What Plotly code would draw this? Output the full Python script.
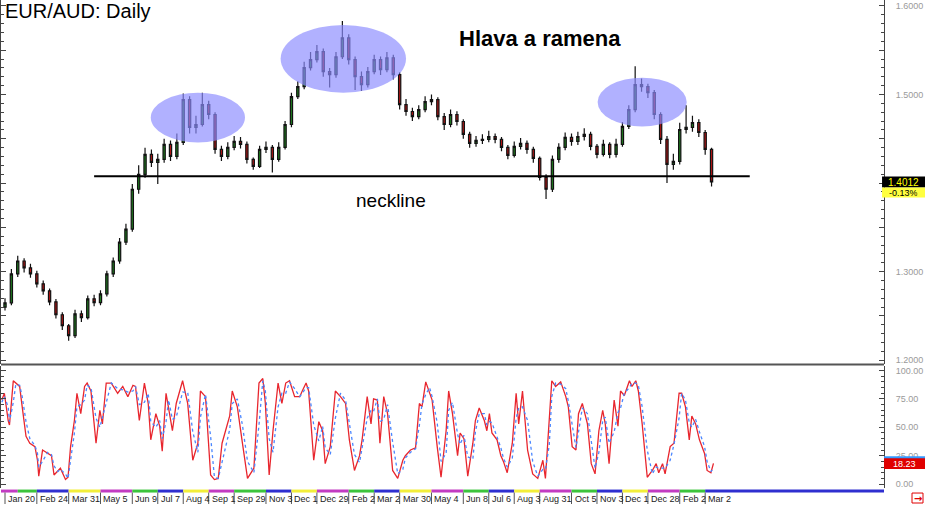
import numpy as np
import plotly.graph_objects as go

# ---------------- data ----------------
tick_labels = ["Jan 20", "Feb 24", "Mar 31", "May 5", "Jun 9", "Jul 7", "Aug 4", "Sep 1",
               "Sep 29", "Nov 3", "Dec 1", "Dec 29", "Feb 2", "Mar 2", "Mar 30", "May 4",
               "Jun 8", "Jul 6", "Aug 3", "Aug 31", "Oct 5", "Nov 3", "Dec 1", "Dec 28",
               "Feb 2", "Mar 2"]
tick_weeks = [0, 5, 10, 15, 20, 24, 28, 32, 36, 41, 45, 49, 54, 58, 62, 67, 72, 76, 80, 84,
              89, 93, 97, 101, 106, 110]
band_edges = [-0.63, 2.0, 5, 10, 15, 20, 24, 28, 32, 36, 41, 45, 49, 54, 58, 62, 67, 72, 76,
              80, 84, 89, 93, 97, 101, 106, 110, 138.1]
band_colors = ["#c23bc2", "#3cc43c", "#2f2fd0", "#f2ee3a"]

price_open = [1.2600, 1.2648, 1.2974, 1.3120, 1.3042, 1.2974, 1.2862, 1.2783, 1.2659, 1.2513,
              1.2389, 1.2277, 1.2524, 1.2480, 1.2693, 1.2650, 1.2749, 1.2974, 1.3120, 1.3334,
              1.3480, 1.3930, 1.4099, 1.4324, 1.4234, 1.4268, 1.4436, 1.4301, 1.4459, 1.4943,
              1.4628, 1.4661, 1.4886, 1.4774, 1.4380, 1.4301, 1.4403, 1.4470, 1.4436, 1.4268,
              1.4189, 1.4380, 1.4403, 1.4268, 1.4403, 1.4661, 1.4976, 1.5089, 1.5303, 1.5393,
              1.5483, 1.5258, 1.5224, 1.5426, 1.5640, 1.5393, 1.5201, 1.5111, 1.5258, 1.5393,
              1.5280, 1.5415, 1.5224, 1.4886, 1.4808, 1.4751, 1.4830, 1.4920, 1.4943, 1.4751,
              1.4661, 1.4774, 1.4695, 1.4549, 1.4448, 1.4481, 1.4493, 1.4526, 1.4493, 1.4403,
              1.4313, 1.4414, 1.4448, 1.4380, 1.4279, 1.4065, 1.3930, 1.4268, 1.4403, 1.4515,
              1.4470, 1.4526, 1.4549, 1.4414, 1.4324, 1.4436, 1.4324, 1.4436, 1.4639, 1.4830,
              1.5111, 1.5089, 1.5021, 1.4774, 1.4493, 1.4211, 1.4245, 1.4605, 1.4628, 1.4684,
              1.4571, 1.4380]
price_high = [1.2700, 1.3030, 1.3180, 1.3150, 1.3090, 1.3010, 1.2900, 1.2810, 1.2690, 1.2540,
              1.2410, 1.2570, 1.2560, 1.2730, 1.2740, 1.2790, 1.3010, 1.3160, 1.3380, 1.3540,
              1.3990, 1.4200, 1.4400, 1.4380, 1.4330, 1.4500, 1.4480, 1.4560, 1.5010, 1.4980,
              1.4760, 1.5020, 1.4930, 1.4800, 1.4420, 1.4460, 1.4530, 1.4520, 1.4470, 1.4290,
              1.4420, 1.4470, 1.4430, 1.4460, 1.4700, 1.5020, 1.5150, 1.5370, 1.5480, 1.5560,
              1.5520, 1.5300, 1.5480, 1.5830, 1.5680, 1.5430, 1.5260, 1.5310, 1.5450, 1.5430,
              1.5480, 1.5450, 1.5250, 1.4950, 1.4850, 1.4880, 1.4980, 1.5000, 1.4970, 1.4790,
              1.4830, 1.4810, 1.4720, 1.4580, 1.4530, 1.4550, 1.4590, 1.4560, 1.4520, 1.4430,
              1.4470, 1.4510, 1.4480, 1.4410, 1.4300, 1.4100, 1.4310, 1.4450, 1.4570, 1.4560,
              1.4580, 1.4620, 1.4580, 1.4440, 1.4490, 1.4460, 1.4500, 1.4690, 1.4880, 1.5320,
              1.5180, 1.5120, 1.5050, 1.4800, 1.4530, 1.4330, 1.4680, 1.4880, 1.4760, 1.4720,
              1.4600, 1.4400]
price_low = [1.2560, 1.2620, 1.2940, 1.2990, 1.2930, 1.2820, 1.2740, 1.2620, 1.2470, 1.2340,
             1.2220, 1.2250, 1.2430, 1.2460, 1.2610, 1.2620, 1.2720, 1.2940, 1.3090, 1.3300,
             1.3450, 1.3880, 1.4060, 1.4180, 1.3990, 1.4230, 1.4250, 1.4270, 1.4430, 1.4560,
             1.4560, 1.4640, 1.4720, 1.4330, 1.4250, 1.4270, 1.4370, 1.4390, 1.4220, 1.4150,
             1.4170, 1.4340, 1.4120, 1.4240, 1.4380, 1.4630, 1.4950, 1.5060, 1.5270, 1.5360,
             1.5200, 1.5080, 1.5190, 1.5400, 1.5340, 1.5050, 1.5040, 1.5080, 1.5230, 1.5220,
             1.5250, 1.5170, 1.4830, 1.4760, 1.4700, 1.4720, 1.4800, 1.4880, 1.4710, 1.4600,
             1.4630, 1.4650, 1.4500, 1.4400, 1.4410, 1.4440, 1.4460, 1.4450, 1.4360, 1.4270,
             1.4290, 1.4380, 1.4330, 1.4230, 1.4030, 1.3820, 1.3900, 1.4230, 1.4370, 1.4420,
             1.4430, 1.4480, 1.4370, 1.4280, 1.4300, 1.4280, 1.4290, 1.4410, 1.4610, 1.4800,
             1.5030, 1.4960, 1.4720, 1.4440, 1.4000, 1.4150, 1.4210, 1.4560, 1.4580, 1.4520,
             1.4320, 1.3960]
price_close = [1.2648, 1.2974, 1.3120, 1.3042, 1.2974, 1.2862, 1.2783, 1.2659, 1.2513, 1.2389,
               1.2277, 1.2524, 1.2480, 1.2693, 1.2650, 1.2749, 1.2974, 1.3120, 1.3334, 1.3480,
               1.3930, 1.4099, 1.4324, 1.4234, 1.4268, 1.4436, 1.4301, 1.4459, 1.4943, 1.4628,
               1.4661, 1.4886, 1.4774, 1.4380, 1.4301, 1.4403, 1.4470, 1.4436, 1.4268, 1.4189,
               1.4380, 1.4403, 1.4268, 1.4403, 1.4661, 1.4976, 1.5089, 1.5303, 1.5393, 1.5483,
               1.5258, 1.5224, 1.5426, 1.5640, 1.5393, 1.5201, 1.5111, 1.5258, 1.5393, 1.5280,
               1.5415, 1.5224, 1.4886, 1.4808, 1.4751, 1.4830, 1.4920, 1.4943, 1.4751, 1.4661,
               1.4774, 1.4695, 1.4549, 1.4448, 1.4481, 1.4493, 1.4526, 1.4493, 1.4403, 1.4313,
               1.4414, 1.4448, 1.4380, 1.4279, 1.4065, 1.3930, 1.4268, 1.4403, 1.4515, 1.4470,
               1.4526, 1.4549, 1.4414, 1.4324, 1.4436, 1.4324, 1.4436, 1.4639, 1.4830, 1.5111,
               1.5089, 1.5021, 1.4774, 1.4493, 1.4211, 1.4245, 1.4605, 1.4628, 1.4684, 1.4571,
               1.4380, 1.4012]

# stochastic oscillator, sampled on trading-day index
osc_day = [0, 2, 5, 6, 9, 11, 14, 16, 19, 22, 26, 28, 29, 32, 36, 39, 41, 44, 46, 50,
           52, 54, 57, 59, 62, 65, 67, 70, 74, 77, 79, 82, 86, 91, 95, 99, 103, 105, 108, 112,
           115, 117, 121, 124, 126, 129, 131, 134, 137, 142, 146, 150, 154, 156, 160, 164, 167, 170, 173, 179,
           181, 185, 189, 193, 198, 202, 205, 207, 210, 213, 217, 220, 223, 226, 230, 234, 236, 239, 241, 245,
           249, 252, 254, 258, 262, 266, 270, 273, 277, 281, 283, 287, 290, 292, 295, 297, 300, 303, 307, 311,
           315, 317, 321, 325, 328, 330, 333, 336, 338, 342, 345, 349, 351, 354, 358, 360, 363, 366, 370, 372,
           375, 379, 381, 383, 385, 389, 392, 394, 397, 401, 404, 406, 409, 413, 417, 421, 425, 427, 430, 432,
           435, 439, 443, 445, 448, 451, 453, 456, 460, 463, 466, 469, 472, 474, 477, 481, 484, 486, 489, 493,
           495, 498, 500, 503, 507, 511, 514, 516, 519, 521, 525, 528, 532, 534, 537, 540, 542, 545, 548, 552,
           554, 557, 559]
stoch_k = [74, 80, 56, 52, 91, 89, 86, 68, 42, 36, 33, 21, 7, 30, 27, 25, 8, 12, 14, 4,
           6, 33, 56, 80, 62, 86, 89, 82, 36, 65, 53, 89, 89, 80, 86, 77, 87, 86, 56, 89,
           71, 39, 62, 51, 29, 80, 68, 47, 71, 91, 71, 21, 36, 82, 77, 8, 4, 5, 36, 60,
           82, 68, 36, 5, 14, 89, 93, 71, 8, 47, 89, 71, 89, 91, 77, 77, 82, 89, 82, 21,
           55, 47, 18, 33, 82, 77, 71, 39, 12, 25, 39, 77, 53, 75, 74, 36, 77, 62, 12, 5,
           21, 25, 30, 32, 71, 68, 90, 80, 74, 33, 6, 47, 82, 62, 25, 45, 40, 7, 36, 56,
           67, 56, 47, 62, 45, 39, 25, 20, 10, 36, 80, 53, 82, 30, 9, 5, 21, 5, 62, 91,
           86, 90, 77, 68, 33, 30, 62, 71, 53, 18, 9, 47, 65, 53, 18, 74, 51, 82, 78, 91,
           86, 91, 82, 53, 6, 12, 18, 10, 18, 9, 33, 36, 80, 80, 68, 39, 60, 53, 39, 27,
           12, 10, 18.23]
stoch_d = [72, 77, 68, 55, 72, 88, 87, 77, 55, 40, 34, 27, 15, 20, 28, 26, 16, 11, 13, 9,
           5, 20, 45, 68, 70, 74, 87, 85, 58, 50, 59, 71, 89, 84, 83, 81, 82, 86, 70, 72,
           80, 55, 50, 56, 40, 55, 74, 57, 59, 81, 81, 46, 28, 59, 79, 42, 6, 5, 20, 48,
           71, 75, 52, 20, 10, 52, 91, 82, 40, 28, 68, 80, 80, 90, 84, 77, 80, 85, 85, 52,
           38, 51, 32, 26, 58, 80, 74, 55, 26, 19, 32, 58, 65, 64, 75, 55, 57, 70, 37, 9,
           13, 23, 28, 31, 52, 70, 79, 85, 77, 54, 20, 27, 65, 72, 44, 35, 43, 24, 22, 46,
           62, 62, 52, 55, 54, 42, 32, 23, 15, 23, 58, 67, 68, 56, 20, 7, 13, 13, 34, 77,
           89, 88, 84, 73, 51, 32, 46, 67, 62, 36, 14, 28, 56, 59, 36, 46, 63, 67, 80, 85,
           89, 89, 87, 68, 30, 9, 15, 14, 14, 14, 21, 35, 58, 80, 74, 54, 50, 57, 46, 33,
           20, 11, 14]

neckline_level = 1.4077
neckline_weeks = [14.0, 117.0]
shoulder_boxes = [  # (x0, x1, y0, y1) in weeks / price
    (22.9, 37.7, 1.4459, 1.5021),
    (43.3, 63.0, 1.5021, 1.5786),
    (93.1, 107.1, 1.4639, 1.5190),
]
last_price = 1.4012
last_change = "-0.13%"
last_k = 18.23

# ---------------- figure ----------------
FONT = "Liberation Sans, Arial, sans-serif"
W, H = 925, 506
XR = 884 / W
weeks = np.arange(len(price_close))
osc_x = np.array(osc_day) / 5.0 - 0.5

fig = go.Figure()
fig.add_trace(go.Candlestick(
    x=weeks, open=price_open, high=price_high, low=price_low, close=price_close,
    xaxis="x", yaxis="y", whiskerwidth=0, showlegend=False, hoverinfo="skip",
    increasing=dict(line=dict(color="#111111", width=1.2), fillcolor="#1f7a1f"),
    decreasing=dict(line=dict(color="#111111", width=1.2), fillcolor="#b01515"),
))
fig.add_trace(go.Scatter(x=osc_x, y=stoch_k, xaxis="x2", yaxis="y2", mode="lines",
                         line=dict(color="#e8262e", width=1.3), showlegend=False, hoverinfo="skip"))
fig.add_trace(go.Scatter(x=osc_x, y=stoch_d, xaxis="x2", yaxis="y2", mode="lines",
                         line=dict(color="#4a86ff", width=1.3, dash="3px,3px"),
                         showlegend=False, hoverinfo="skip"))

def py(px):
    return 1 - px / H

axis_common = dict(showgrid=False, zeroline=False, fixedrange=True)
fig.update_layout(
    width=W, height=H, margin=dict(l=0, r=0, t=0, b=0),
    paper_bgcolor="white", plot_bgcolor="white", boxgap=0.5,
    font=dict(family=FONT),
    xaxis=dict(domain=[0, XR], range=[-0.63, 138.1], showticklabels=False, ticks="",
               rangeslider=dict(visible=False), anchor="y", **axis_common),
    xaxis2=dict(domain=[0, XR], range=[-0.63, 138.1], showticklabels=False, ticks="",
                anchor="y2", **axis_common),
    yaxis=dict(domain=[py(365), 1], range=[1.1962, 1.6067], side="right", anchor="x",
               showline=True, linecolor="#444", linewidth=1, mirror="ticks",
               ticks="inside", ticklen=5, tickcolor="#444",
               tickvals=[1.20, 1.25, 1.30, 1.35, 1.40, 1.45, 1.50, 1.55, 1.60],
               ticktext=["1.2000", "", "1.3000", "", "", "", "1.5000", "", "1.6000"],
               minor=dict(dtick=0.01, ticks="inside", ticklen=3, tickcolor="#444"),
               tickfont=dict(size=9, color="#9a9a9a", family=FONT), ticklabelstandoff=9,
               **axis_common),
    yaxis2=dict(domain=[py(490), py(367)], range=[-3.5, 104.4], side="right", anchor="x2",
                showline=True, linecolor="#444", linewidth=1, mirror="ticks",
                ticks="inside", ticklen=5, tickcolor="#444",
                tickvals=[0, 25, 50, 75, 100], tickformat=".2f",
                minor=dict(dtick=5, ticks="inside", ticklen=3, tickcolor="#444"),
                tickfont=dict(size=9, color="#9a9a9a", family=FONT), ticklabelstandoff=9,
                **axis_common),
)

shapes = []
# ellipses
for (x0, x1, y0, y1) in shoulder_boxes:
    shapes.append(dict(type="circle", xref="x", yref="y", x0=x0, x1=x1, y0=y0, y1=y1,
                       fillcolor="rgba(140,140,255,0.68)", line=dict(width=0), layer="above"))
# neckline
shapes.append(dict(type="line", xref="x", yref="y", x0=neckline_weeks[0], x1=neckline_weeks[1],
                   y0=neckline_level, y1=neckline_level, line=dict(color="black", width=2),
                   layer="above"))
# panel separator
shapes.append(dict(type="line", xref="paper", yref="paper", x0=0, x1=XR, y0=py(366), y1=py(366),
                   line=dict(color="#555", width=2)))
# colored date band
for i in range(len(band_edges) - 1):
    shapes.append(dict(type="rect", xref="x2", yref="paper", x0=band_edges[i], x1=band_edges[i + 1],
                       y0=py(494.5), y1=py(491.5), fillcolor=band_colors[i % 4], line=dict(width=0)))
# label separators
for w in tick_weeks:
    shapes.append(dict(type="line", xref="x2", yref="paper", x0=w, x1=w, y0=py(506), y1=py(494.5),
                       line=dict(color="#555", width=1)))
# price tag
shapes.append(dict(type="rect", xref="paper", yref="y", x0=882 / W, x1=1, y0=last_price - 0.0062,
                   y1=last_price + 0.0062, fillcolor="black", line=dict(width=0)))
shapes.append(dict(type="rect", xref="paper", yref="y", x0=882 / W, x1=1, y0=last_price - 0.0174,
                   y1=last_price - 0.0062, fillcolor="#ffff40", line=dict(width=0)))
# oscillator tags
shapes.append(dict(type="rect", xref="paper", yref="y2", x0=XR, x1=1, y0=20, y1=24.6,
                   fillcolor="#3399ff", line=dict(width=0)))
shapes.append(dict(type="rect", xref="paper", yref="y2", x0=XR, x1=1, y0=13.2, y1=22.8,
                   fillcolor="#e00000", line=dict(width=0)))
# arrow icon box
shapes.append(dict(type="rect", xref="paper", yref="paper", x0=912 / W, x1=923 / W,
                   y0=py(505), y1=py(495), fillcolor="white", line=dict(color="#e00000", width=1)))
fig.update_layout(shapes=shapes)

ann = []
ann.append(dict(text="EUR/AUD: Daily", xref="paper", yref="paper", x=2 / W, y=py(11.5),
                xanchor="left", yanchor="middle", showarrow=False,
                font=dict(size=20, color="black", family=FONT)))
ann.append(dict(text="<b>Hlava a ramena</b>", xref="x", yref="y", x=84.1, y=1.5629,
                xanchor="center", yanchor="middle", showarrow=False,
                font=dict(size=22, color="black", family=FONT)))
ann.append(dict(text="neckline", xref="x", yref="y", x=60.6, y=1.3807,
                xanchor="center", yanchor="middle", showarrow=False,
                font=dict(size=19, color="black", family=FONT)))
for lab, w in zip(tick_labels, tick_weeks):
    ann.append(dict(text=lab, xref="x2", yref="paper", x=w, y=py(500.5), xanchor="left",
                    yanchor="middle", xshift=1, showarrow=False,
                    font=dict(size=9, color="#222", family=FONT)))
ann.append(dict(text=f"{last_price:.4f}", xref="paper", yref="y", x=903.5 / W, y=last_price,
                xanchor="center", yanchor="middle", showarrow=False, height=10, borderpad=0,
                font=dict(size=10, color="#ffff00", family=FONT)))
ann.append(dict(text=last_change, xref="paper", yref="y", x=903.5 / W, y=last_price - 0.0118,
                xanchor="center", yanchor="middle", showarrow=False, height=9, borderpad=0,
                font=dict(size=9, color="black", family=FONT)))
ann.append(dict(text=f"{last_k:.2f}", xref="paper", yref="y2", x=904.5 / W, y=18.0,
                xanchor="center", yanchor="middle", showarrow=False,
                font=dict(size=9, color="white", family=FONT)))
ann.append(dict(text="<b>→</b>", xref="paper", yref="paper", x=917.5 / W, y=py(500),
                xanchor="center", yanchor="middle", showarrow=False,
                font=dict(size=10, color="#e00000", family="DejaVu Sans, sans-serif")))
fig.update_layout(annotations=ann)

fig.write_html("out.html", config={"displayModeBar": False},
               post_script="document.body.style.margin='0';document.body.style.overflow='hidden';")
